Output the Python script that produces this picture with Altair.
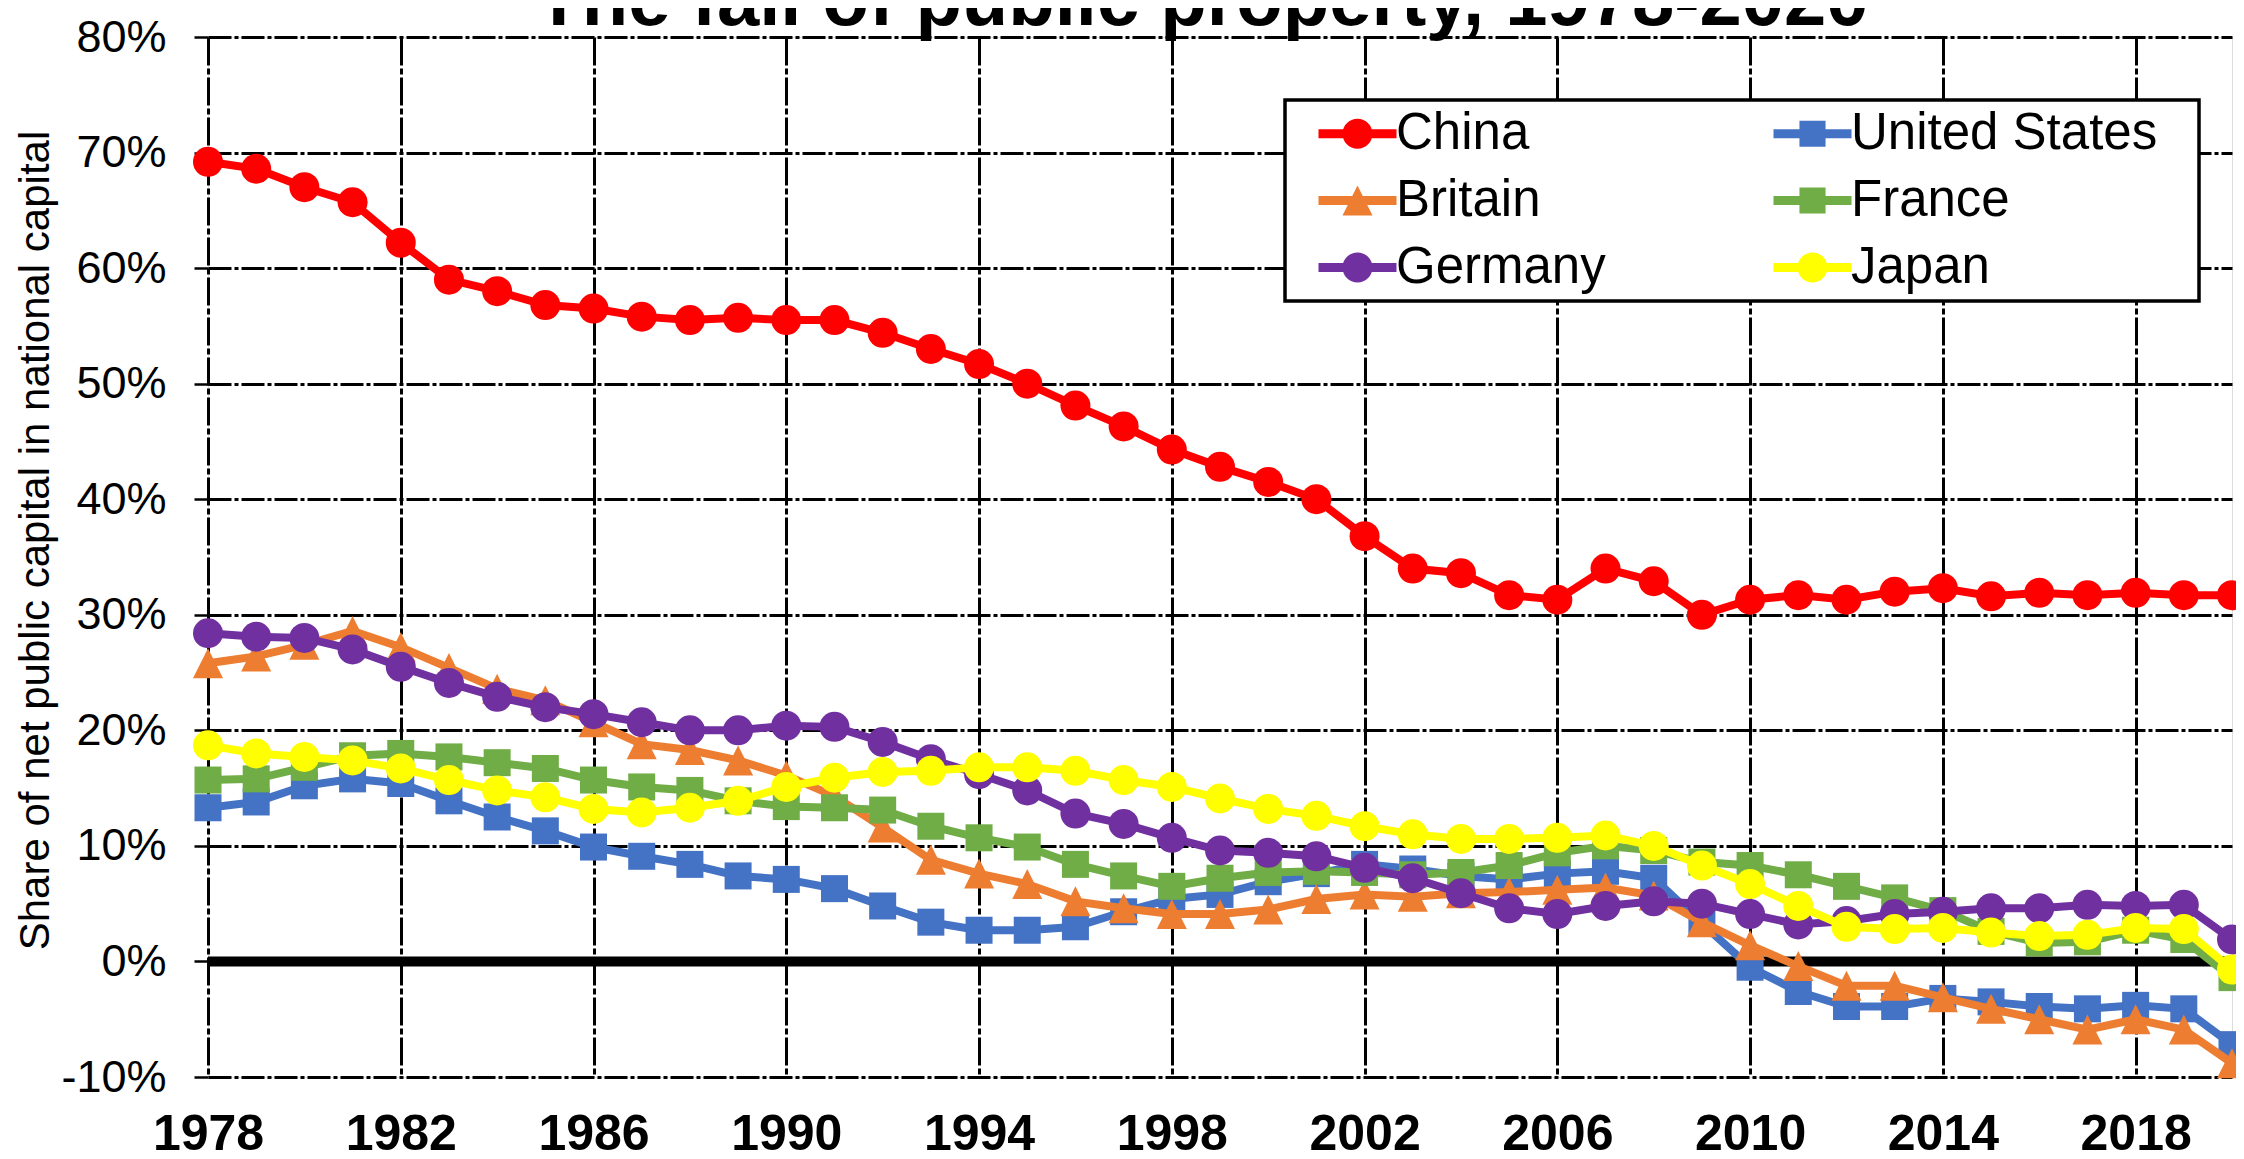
import altair as alt
import pandas as pd

years = list(range(1978, 2021))
countries = ["China", "United States", "Britain", "France", "Germany", "Japan"]
colors = ["#FF0000", "#4472C4", "#ED7D31", "#70AD47", "#7030A0", "#FFFF00"]
# legend reads row by row: China | United States / Britain | France / Germany | Japan
legend_order = ["China", "Britain", "Germany", "United States", "France", "Japan"]

china = [69.2, 68.6, 67.0, 65.7, 62.2, 59.0, 58.0, 56.8, 56.5, 55.8,
         55.5, 55.7, 55.5, 55.5, 54.4, 53.0, 51.7, 50.0, 48.1, 46.3,
         44.3, 42.8, 41.5, 40.0, 36.8, 34.0, 33.6, 31.7, 31.3, 34.0,
         32.9, 30.0, 31.3, 31.7, 31.3, 32.0, 32.3, 31.6, 31.9, 31.7,
         31.9, 31.7, 31.7]
united_states = [13.3, 13.8, 15.2, 15.8, 15.4, 13.9, 12.5, 11.3, 9.9, 9.1,
                 8.4, 7.4, 7.1, 6.3, 4.8, 3.4, 2.7, 2.7, 3.0, 4.3,
                 5.4, 5.8, 6.9, 7.6, 8.4, 8.0, 7.4, 7.1, 7.6, 7.8,
                 7.2, 3.3, -0.5, -2.6, -3.9, -3.9, -3.2, -3.5, -3.9, -4.1,
                 -3.8, -4.1, -7.2]
britain = [25.8, 26.4, 27.4, 28.6, 27.2, 25.4, 23.6, 22.6, 20.7, 18.8,
           18.3, 17.4, 16.1, 14.3, 11.6, 8.8, 7.6, 6.7, 5.2, 4.6,
           4.1, 4.1, 4.5, 5.4, 5.8, 5.6, 5.9, 6.0, 6.2, 6.4,
           5.7, 3.4, 1.4, -0.4, -2.1, -2.1, -3.1, -4.1, -5.0, -5.9,
           -5.0, -5.9, -8.8]
france = [15.7, 15.8, 16.8, 17.8, 18.0, 17.7, 17.2, 16.7, 15.7, 15.1,
          14.8, 13.9, 13.4, 13.3, 13.1, 11.7, 10.7, 9.9, 8.4, 7.4,
          6.5, 7.2, 7.7, 7.8, 7.7, 7.5, 7.7, 8.3, 9.4, 10.0,
          9.6, 8.6, 8.3, 7.5, 6.5, 5.5, 4.4, 2.6, 1.6, 1.7,
          2.7, 1.9, -1.4]
germany = [28.4, 28.1, 28.0, 27.0, 25.5, 24.1, 22.9, 22.0, 21.4, 20.7,
           20.0, 20.0, 20.4, 20.3, 19.0, 17.5, 16.2, 14.8, 12.8, 11.9,
           10.7, 9.6, 9.4, 9.1, 8.1, 7.2, 5.9, 4.6, 4.1, 4.8,
           5.2, 5.0, 4.1, 3.2, 3.5, 4.1, 4.3, 4.6, 4.6, 4.9,
           4.8, 4.9, 1.9]
japan = [18.7, 18.0, 17.7, 17.4, 16.7, 15.7, 14.8, 14.2, 13.2, 12.9,
         13.3, 13.9, 15.1, 15.9, 16.4, 16.5, 16.8, 16.8, 16.5, 15.7,
         15.1, 14.1, 13.2, 12.6, 11.7, 11.0, 10.6, 10.6, 10.7, 10.9,
         10.0, 8.3, 6.7, 4.8, 3.0, 2.8, 2.9, 2.5, 2.2, 2.3,
         2.9, 2.8, -0.7]

series = {"China": china, "United States": united_states, "Britain": britain,
          "France": france, "Germany": germany, "Japan": japan}
color_of = dict(zip(countries, colors))

x_ticks = list(range(1978, 2019, 4))
y_ticks = list(range(-10, 81, 10))

rows = []
for c in countries:
    for yr, v in zip(years, series[c]):
        rows.append({"year": yr, "country": c, "value": v})
df = pd.DataFrame(rows)

FONT = "Liberation Sans"

TRI = "M0,-1L1,1L-1,1Z"
marker_shape = {"China": "circle", "United States": "square", "Britain": TRI,
                "France": "square", "Germany": "circle", "Japan": "circle"}
marker_size = {"circle": 900, "square": 729, TRI: 900}

BAR = "M-2.6,-0.3H2.6V0.3H-2.6Z"
LEG_CIRC = BAR + "M-1,0A1,1,0,1,1,1,0A1,1,0,1,1,-1,0Z"
LEG_SQ = BAR + "M-0.87,-0.87H0.87V0.87H-0.87Z"
LEG_TRI = BAR + "M0,-1L1,1H-1Z"
leg_shape_of = {"China": LEG_CIRC, "United States": LEG_SQ, "Britain": LEG_TRI,
                "France": LEG_SQ, "Germany": LEG_CIRC, "Japan": LEG_CIRC}

legend = alt.Legend(
    title="\u00a0", titleOrient="right", titlePadding=34, titleFontSize=1,
    orient="none", legendX=1077, legendY=63, columns=2,
    symbolSize=900, symbolStrokeWidth=0, symbolOffset=39, labelOffset=13,
    symbolOpacity=1,
    labelFont=FONT, labelFontSize=51, labelColor="black", labelLimit=1000,
    padding=8, rowPadding=15, columnPadding=142,
    strokeColor="black", fillColor="white",
)

x_axis = alt.Axis(values=x_ticks, format="d", title=None, labelFont=FONT, labelFontSize=50,
                  labelFontWeight="bold", labelColor="black", ticks=False, tickSize=0,
                  domain=False, grid=True, gridColor="black", gridWidth=3,
                  gridDash=[28, 3, 6, 3], labelPadding=32, labelFlush=False,
                  labelOverlap=False)
y_axis = alt.Axis(values=y_ticks, labelExpr="datum.value + '%'", labelFont=FONT,
                  labelFontSize=45, labelColor="black", labelPadding=28,
                  ticks=True, tickSize=14, tickWidth=2.5, tickColor="black",
                  domain=False, grid=True, gridColor="black", gridWidth=3,
                  gridDash=[23, 3, 4, 3], labelFlush=False, labelOverlap=False,
                  title="Share of net public capital in national capital",
                  titleFont=FONT, titleFontSize=42, titleFontWeight="normal",
                  titleColor="black", titleX=-160, titleY=503, titleAngle=270,
                  titleAlign="center", titleBaseline="alphabetic")

x_scale = alt.Scale(domain=[1978, 2020], nice=False, zero=False)
y_scale = alt.Scale(domain=[-10, 80], nice=False, zero=False)
x_enc = alt.X("year:Q", axis=x_axis, scale=x_scale)
y_enc = alt.Y("value:Q", axis=y_axis, scale=y_scale)
color_enc = alt.Color("country:N", legend=legend,
                      scale=alt.Scale(domain=legend_order,
                                      range=[color_of[c] for c in legend_order]))
shape_enc = alt.Shape("country:N", legend=legend,
                      scale=alt.Scale(domain=legend_order,
                                      range=[leg_shape_of[c] for c in legend_order]))

base = alt.Chart(df)

zero_line = alt.Chart(pd.DataFrame({"z": [0]})).mark_rule(color="black", strokeWidth=10).encode(
    y=alt.Y("z:Q", axis=y_axis, scale=y_scale)
)

legend_layer = base.mark_point(filled=True, opacity=0, size=900, strokeWidth=0).encode(
    x=x_enc, y=y_enc, color=color_enc, shape=shape_enc)

layers = [legend_layer, zero_line]
for c in countries:
    sub = base.transform_filter(alt.datum.country == c)
    layers.append(sub.mark_line(strokeWidth=8).encode(x=x_enc, y=y_enc, color=color_enc))
    shp = marker_shape[c]
    layers.append(sub.mark_point(filled=True, opacity=1, strokeWidth=0, shape=shp,
                                 size=marker_size[shp]).encode(x=x_enc, y=y_enc, color=color_enc))

chart = alt.layer(*layers).properties(
    width=2024, height=1040,
    title=alt.TitleParams("The fall of public property, 1978-2020", font=FONT, fontSize=76,
                          fontWeight="bold", color="black", anchor="middle",
                          baseline="alphabetic", offset=0, dy=86, dx=-18),
    padding={"left": 200, "top": 29, "right": 4, "bottom": 82},
    autosize=alt.AutoSizeParams(type="none"),
).configure_view(stroke="black", strokeWidth=8, fill="white").configure(
    background="white").configure_legend(strokeWidth=3.5)

chart.save("out.html", embed_options={"renderer": "svg", "actions": False})
